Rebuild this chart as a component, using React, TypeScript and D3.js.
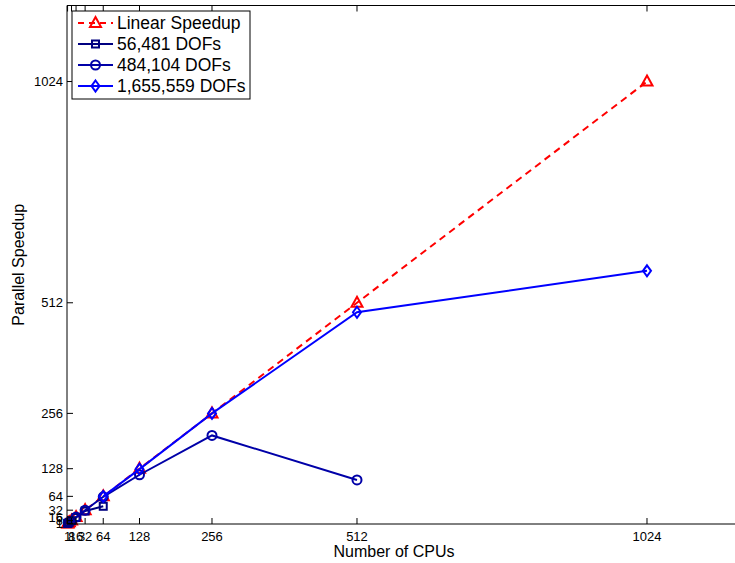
import React from "react";
import * as d3 from "d3";

const cpus = [1, 2, 4, 8, 16, 32, 64, 128, 256, 512, 1024];
const linearSpeedup = [1, 2, 4, 8, 16, 32, 64, 128, 256, 512, 1024];
const cpus56k = [1, 2, 4, 8, 16, 32, 64];
const speedup56k = [1, 2, 3.9, 7.7, 15, 30, 41];
const cpus484k = [16, 32, 64, 128, 256, 512];
const speedup484k = [16, 32, 63, 114, 205, 102];
const cpus1655k = [64, 128, 256, 512, 1024];
const speedup1655k = [64, 127, 256, 490, 586];
const tickValues = [1, 8, 16, 32, 64, 128, 256, 512, 1024];
const legendLabels = ["Linear Speedup", "56,481 DOFs", "484,104 DOFs", "1,655,559 DOFs"];

const W = 735, H = 563;
const L = 67, B = 524, T = 5.5;
const R = L + 1200 * 0.5664;
const FONT = "Liberation Sans, Arial, sans-serif";

const x = d3.scaleLinear().domain([0, 1200]).range([L, R]);
const y = d3.scaleLinear().domain([0, 1200]).range([B, T]);

type Series = { xs: number[]; ys: number[]; color: string; marker: string; dash?: string; label: string };

const series: Series[] = [
  { xs: cpus, ys: linearSpeedup, color: "#ff0000", marker: "tri", dash: "7,5", label: legendLabels[0] },
  { xs: cpus56k, ys: speedup56k, color: "#000080", marker: "sq", label: legendLabels[1] },
  { xs: cpus484k, ys: speedup484k, color: "#0000a8", marker: "circ", label: legendLabels[2] },
  { xs: cpus1655k, ys: speedup1655k, color: "#0000ff", marker: "dia", label: legendLabels[3] },
];

function Marker({ type, cx, cy, color }: { type: string; cx: number; cy: number; color: string }) {
  const p = { fill: "none", stroke: color, strokeWidth: 2 };
  if (type === "tri") return <path d={`M${cx},${cy - 6} L${cx + 5.5},${cy + 4} L${cx - 5.5},${cy + 4} Z`} {...p} />;
  if (type === "sq") return <rect x={cx - 3.5} y={cy - 3.5} width={7} height={7} {...p} />;
  if (type === "circ") return <circle cx={cx} cy={cy} r={4.5} {...p} />;
  return <path d={`M${cx},${cy - 5.5} L${cx + 4},${cy} L${cx},${cy + 5.5} L${cx - 4},${cy} Z`} {...p} />;
}

export default function App() {
  const line = d3.line<[number, number]>().x((d) => x(d[0])).y((d) => y(d[1]));
  const legendX = 72, legendY = 11, rowH = 21;
  return (
    <svg width={W} height={H} style={{ position: "absolute", left: 0, top: 0, background: "#fff" }} fontFamily={FONT}>
      <rect x={0} y={0} width={W} height={H} fill="#fff" />
      {series.map((s, i) => (
        <g key={i}>
          <path d={line(s.xs.map((v, j) => [v, s.ys[j]] as [number, number])) || ""} fill="none" stroke={s.color} strokeWidth={2} strokeDasharray={s.dash} />
          {s.xs.map((v, j) => (
            <Marker key={j} type={s.marker} cx={x(v)} cy={y(s.ys[j])} color={s.color} />
          ))}
        </g>
      ))}
      <g stroke="#000" strokeWidth={1} fill="none">
        <line x1={L} y1={T} x2={R} y2={T} />
        <line x1={L} y1={B} x2={R} y2={B} />
        <line x1={L} y1={T} x2={L} y2={B} />
        <line x1={R} y1={T} x2={R} y2={B} />
        {tickValues.map((t) => (
          <g key={"t" + t}>
            <line x1={x(t)} y1={B} x2={x(t)} y2={B - 6} />
            <line x1={x(t)} y1={T} x2={x(t)} y2={T + 6} />
            <line x1={L} y1={y(t)} x2={L + 6} y2={y(t)} />
            <line x1={R} y1={y(t)} x2={R - 6} y2={y(t)} />
          </g>
        ))}
      </g>
      <g fontSize={13} fill="#000">
        {tickValues.map((t) => (
          <text key={"xl" + t} x={x(t)} y={B + 17} textAnchor="middle">{t}</text>
        ))}
        {tickValues.map((t) => (
          <text key={"yl" + t} x={L - 4} y={y(t) + 4.5} textAnchor="end">{t}</text>
        ))}
      </g>
      <text x={394} y={557} textAnchor="middle" fontSize={16}>Number of CPUs</text>
      <text transform={`translate(24,${(T + B) / 2}) rotate(-90)`} textAnchor="middle" fontSize={16}>Parallel Speedup</text>
      <rect x={legendX} y={legendY} width={178} height={88} fill="#fff" stroke="#000" strokeWidth={1} />
      {series.map((s, i) => {
        const cy = legendY + 12 + i * rowH;
        return (
          <g key={"lg" + i}>
            <line x1={78} y1={cy} x2={113} y2={cy} stroke={s.color} strokeWidth={2} strokeDasharray={s.dash ? "6,5" : undefined} />
            <Marker type={s.marker} cx={95.5} cy={cy} color={s.color} />
            <text x={117} y={cy + 6} fontSize={17.5} fill="#000">{s.label}</text>
          </g>
        );
      })}
    </svg>
  );
}
